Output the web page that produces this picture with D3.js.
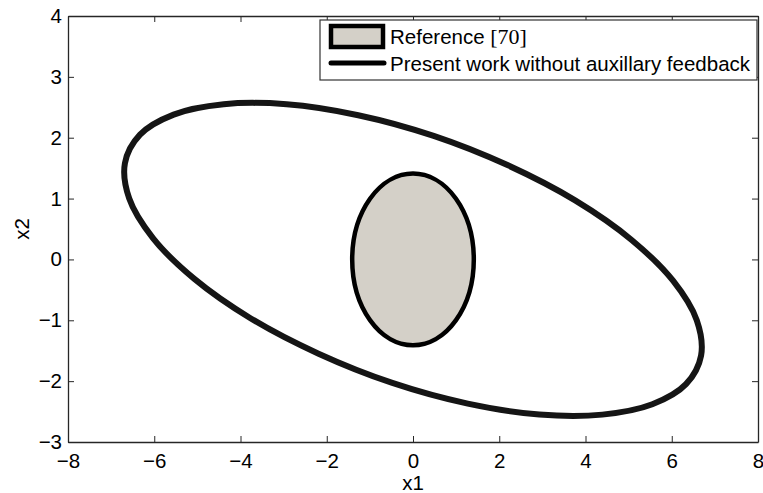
<!DOCTYPE html>
<html lang="en">
  <head>
    <meta charset="UTF-8">
    <title>Region comparison</title>
    <style>
      body { margin: 0; background: #fff; }
      text { font-family: "Liberation Sans", Arial, sans-serif; fill: #000; }
      .axis path, .axis line { stroke: #262626; }
    </style>
  </head>
  <body>
    <script src="https://d3js.org/d3.v7.min.js"></script>
    <script>
      // axis ranges and ticks
      const xDomain = [-8, 8];
      const yDomain = [-3, 4];
      const xTicks = [-8, -6, -4, -2, 0, 2, 4, 6, 8];
      const yTicks = [-3, -2, -1, 0, 1, 2, 3, 4];

      // outer region (present work), outline points
      const outerX = [6.68, 6.58, 6.03, 5.07, 3.76, 2.19, 0.48, -1.27, -2.93, -4.39, -5.55, -6.33,
                      -6.68, -6.58, -6.03, -5.07, -3.76, -2.19, -0.48, 1.27, 2.93, 4.39, 5.55, 6.33];
      const outerY = [-1.58, -1.00, -0.35, 0.32, 0.97, 1.55, 2.03, 2.37, 2.55, 2.55, 2.38, 2.05,
                      1.58, 1.00, 0.35, -0.32, -0.97, -1.55, -2.03, -2.37, -2.55, -2.55, -2.38, -2.05];

      // inner region (reference [70]): centre and radii
      const innerCentre = [0, 0];
      const innerRadius = [1.41, 1.41];

      const legendLabels = ["Reference ", "[70]", "Present work without auxillary feedback"];

      const width = 763, height = 493;
      const margin = { left: 68, right: 5, top: 16, bottom: 51 };
      const fs = 20.5;

      const svg = d3.select("body").append("svg")
        .attr("width", width)
        .attr("height", height);

      const x = d3.scaleLinear().domain(xDomain).range([margin.left, width - margin.right]);
      const y = d3.scaleLinear().domain(yDomain).range([height - margin.bottom, margin.top]);

      // outer closed curve
      const outerPts = outerX.map((v, i) => [v, outerY[i]]);
      const line = d3.line()
        .x(d => x(d[0]))
        .y(d => y(d[1]))
        .curve(d3.curveCatmullRomClosed);

      svg.append("path")
        .attr("d", line(outerPts))
        .attr("fill", "none")
        .attr("stroke", "#151515")
        .attr("stroke-width", 6);

      // inner region
      svg.append("ellipse")
        .attr("cx", x(innerCentre[0]))
        .attr("cy", y(innerCentre[1]))
        .attr("rx", x(innerRadius[0]) - x(0))
        .attr("ry", y(0) - y(innerRadius[1]))
        .attr("fill", "#d4d0c8")
        .attr("stroke", "#000")
        .attr("stroke-width", 4.5);

      // axes (ticks inside, box all round)
      const tickLen = 6;
      const fmt = d3.format("d");
      const xAxis = svg.append("g").attr("class", "axis")
        .attr("transform", `translate(0,${y(yDomain[0])})`)
        .call(d3.axisBottom(x).tickValues(xTicks).tickFormat(fmt).tickSizeInner(-tickLen).tickSizeOuter(0).tickPadding(11));
      svg.append("g").attr("class", "axis")
        .attr("transform", `translate(0,${y(yDomain[1])})`)
        .call(d3.axisTop(x).tickValues(xTicks).tickSizeInner(-tickLen).tickSizeOuter(0).tickFormat(""));
      svg.append("g").attr("class", "axis")
        .attr("transform", `translate(${x(xDomain[0])},0)`)
        .call(d3.axisLeft(y).tickValues(yTicks).tickFormat(fmt).tickSizeInner(-tickLen).tickSizeOuter(0).tickPadding(6));
      svg.append("g").attr("class", "axis")
        .attr("transform", `translate(${x(xDomain[1])},0)`)
        .call(d3.axisRight(y).tickValues(yTicks).tickSizeInner(-tickLen).tickSizeOuter(0).tickFormat(""));

      svg.selectAll(".axis path").attr("stroke-width", 1.3);
      svg.selectAll(".axis text")
        .attr("font-family", "Liberation Sans, Arial, sans-serif")
        .attr("font-size", fs)
        .attr("fill", "#000");
      xAxis.selectAll("text").attr("dy", "0.71em");

      // axis labels
      svg.append("text")
        .attr("x", x(0))
        .attr("y", 490)
        .attr("text-anchor", "middle")
        .attr("font-size", fs)
        .text("x1");
      svg.append("text")
        .attr("transform", `translate(29,${y(0.5)}) rotate(-90)`)
        .attr("text-anchor", "middle")
        .attr("font-size", fs)
        .text("x2");

      // legend
      const lg = svg.append("g").attr("transform", "translate(320,20)");
      lg.append("rect")
        .attr("width", 437).attr("height", 60)
        .attr("fill", "#fff")
        .attr("stroke", "#333")
        .attr("stroke-width", 1.2);
      lg.append("rect")
        .attr("x", 11).attr("y", 6).attr("width", 52).attr("height", 21)
        .attr("fill", "#d4d0c8")
        .attr("stroke", "#000")
        .attr("stroke-width", 4.5);
      const t1 = lg.append("text")
        .attr("x", 70).attr("y", 24)
        .attr("font-size", fs);
      t1.append("tspan").text(legendLabels[0]);
      t1.append("tspan")
        .attr("font-family", "Liberation Serif, Times New Roman, serif")
        .attr("font-size", 22)
        .text(legendLabels[1]);
      lg.append("line")
        .attr("x1", 11).attr("x2", 64).attr("y1", 43).attr("y2", 43)
        .attr("stroke", "#000")
        .attr("stroke-width", 5)
        .attr("stroke-linecap", "round");
      lg.append("text")
        .attr("x", 70).attr("y", 51)
        .attr("font-size", fs)
        .text(legendLabels[2]);
    </script>
  </body>
</html>
